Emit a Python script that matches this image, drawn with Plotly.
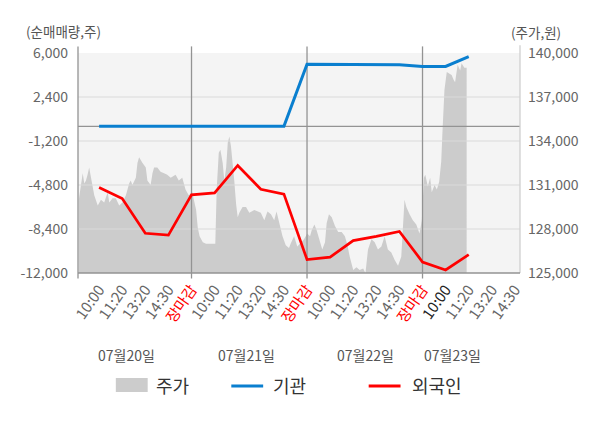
import plotly.graph_objects as go

# ---------------- data ----------------
day_labels = ["07월20일", "07월21일", "07월22일", "07월23일"]
time_labels = ["10:00", "11:20", "13:20", "14:30", "장마감"]

# x positions are "slots": each trading day spans 5 slots (10:00,11:20,13:20,14:30,장마감)
flow_x = list(range(1, 18))
institution = [0, 0, 0, 0, 0, 0, 0, 0, 0,
               5080, 5070, 5060, 5050, 5040, 4900, 4900, 5700]
foreign = [-5000, -5900, -8750, -8900, -5600,
           -5450, -3200, -5150, -5550, -10900,
           -10700, -9350, -9000, -8600, -11100,
           -11750, -10500]

price_x = [0.12, 0.22, 0.29, 0.36, 0.43, 0.50, 0.57, 0.65, 0.72, 0.79, 0.94,
           1.08, 1.22, 1.37, 1.44, 1.58, 1.72, 1.87, 2.01, 2.16, 2.30, 2.37,
           2.44, 2.59, 2.66, 2.73, 2.88, 3.02, 3.09, 3.23, 3.31, 3.38, 3.52,
           3.66, 3.81, 3.95, 4.10, 4.31, 4.45, 4.60, 4.74, 4.88, 5.03,
           5.09, 5.20, 5.27, 5.35, 5.49, 5.63, 5.78, 5.92, 6.03, 6.09, 6.18,
           6.25, 6.35, 6.42, 6.50, 6.57, 6.64, 6.71, 6.78, 6.85, 6.93, 7.00,
           7.07, 7.21, 7.36, 7.50, 7.72, 7.86, 8.00, 8.15, 8.29, 8.44, 8.58,
           8.68, 8.79, 8.94, 9.08, 9.22, 9.29, 9.44, 9.58, 9.73, 9.87, 10.01,
           10.13, 10.20, 10.32, 10.42, 10.56, 10.66, 10.78, 10.85, 10.95,
           11.07, 11.21, 11.35, 11.50, 11.64, 11.75, 11.85, 12.00, 12.14,
           12.28, 12.43, 12.53, 12.64, 12.79, 12.93, 13.07, 13.22, 13.36,
           13.50, 13.65, 13.79, 13.94, 14.08, 14.22, 14.30, 14.44, 14.58,
           14.73, 14.87, 14.97,
           15.06, 15.12, 15.23, 15.33, 15.40, 15.52, 15.62, 15.72, 15.81,
           15.86, 15.95, 16.05, 16.15, 16.26, 16.34, 16.41, 16.52, 16.63,
           16.69, 16.81, 16.91]
price = [130000, 131100, 131800, 131100, 131300, 131700, 132200, 131500, 130900, 130300, 129600,
         130000, 129800, 130500, 129800, 130100, 130100, 129600, 129800, 130300, 131100, 131300,
         131000, 131500, 132500, 132900, 132500, 132200, 131300, 131000, 131800, 132200, 132200,
         131900, 131800, 131700, 131500, 131700, 131300, 131500, 130700, 130300, 130500,
         130000, 129300, 128100, 127500, 127100, 127000, 127000, 127000, 127000, 130700, 133200,
         133400, 132500, 131300, 132200, 133900, 134300, 133600, 132600, 131300, 129700, 128800,
         129100, 129500, 129500, 129100, 129300, 129200, 129100, 128600, 129200, 129000, 128600,
         129200, 128400, 127500, 126900, 126700, 127000, 127500, 126800, 127100, 127300, 127700,
         127500, 127900, 128300, 127900, 127200, 126600, 127100, 128400, 129000,
         128800, 128200, 127800, 127800, 127500, 126900, 126100, 125200, 125400,
         125200, 125300, 125000, 126600, 127300, 127100, 126600, 126800, 127500,
         126600, 126400, 125900, 125500, 126100, 130000, 129500, 129000, 128600,
         128300, 127700, 128600,
         131500, 131700, 130900, 131500, 130500, 131000, 130700, 131200, 132600,
         134500, 137500, 138700, 138600, 138500, 138200, 138000, 139200, 138800,
         139300, 139000, 139000]

left_ticks = [6000, 2400, -1200, -4800, -8400, -12000]
right_ticks = [140000, 137000, 134000, 131000, 128000, 125000]
day_bounds = [5, 10, 15]
n_slots = 19  # last day shown up to 14:30
date_pos = [2.2, 7.37, 12.54, 16.3]

# ---------------- styling / layout ----------------
FONT = "Noto Sans CJK KR"
W, H = 600, 428
OFF = 8  # page body offset
L, T = 76 - OFF, 53 - OFF
PW, PH = 444, 220
R = W - L - PW
B = H - T - PH
XR = [0.086, 19.22]


def px(xp):
    return (xp - OFF - L) / PW


def py(yp):
    return (T + PH - (yp - OFF)) / PH


tickvals = list(range(1, n_slots + 1))
ticktext = []
for i, v in enumerate(tickvals):
    lab = time_labels[i % 5]
    if lab == "장마감":
        ticktext.append('<span style="color:#ff0000">' + lab + '</span>')
    elif v == 16:
        ticktext.append('<span style="color:#222222">' + lab + '</span>')
    else:
        ticktext.append(lab)

fig = go.Figure()

# price area (main axis, right side)
fig.add_trace(go.Scatter(x=price_x, y=price, mode="lines", fill="tozeroy",
                         fillcolor="#cccccc", line=dict(width=0, color="#cccccc"),
                         name="주가", xaxis="x", yaxis="y", hoverinfo="skip"))

# grid lines drawn above price area (overlay axis)
gx, gy = [], []
for t in left_ticks[1:-1]:
    gx += [XR[0], XR[1], None]
    gy += [t, t, None]
fig.add_trace(go.Scatter(x=gx, y=gy, mode="lines", line=dict(color="#d9d9d9", width=1.2),
                         yaxis="y2", showlegend=False, hoverinfo="skip"))
vx, vy = [], []
for d in day_bounds:
    vx += [d, d, None]
    vy += [left_ticks[-1], left_ticks[0], None]
vx += [XR[0], XR[1]]
vy += [0, 0]
fig.add_trace(go.Scatter(x=vx, y=vy, mode="lines", line=dict(color="#939393", width=1.3),
                         yaxis="y2", showlegend=False, hoverinfo="skip"))

fig.add_trace(go.Scatter(x=flow_x, y=institution, mode="lines",
                         line=dict(color="#0a7fcf", width=3), name="기관", yaxis="y2"))
fig.add_trace(go.Scatter(x=flow_x, y=foreign, mode="lines",
                         line=dict(color="#ff0000", width=2.7), name="외국인", yaxis="y2"))

shapes = []
for d in day_bounds:
    shapes.append(dict(type="line", xref="x", yref="paper", x0=d, x1=d, y0=1.0, y1=1.03,
                       line=dict(color="#939393", width=1.3)))
    shapes.append(dict(type="line", xref="x", yref="paper", x0=d, x1=d, y0=0, y1=-0.025,
                       line=dict(color="#939393", width=1.3)))
shapes.append(dict(type="line", xref="paper", yref="paper", x0=0, x1=0, y0=-0.025, y1=1.03,
                   line=dict(color="#939393", width=1.3), layer="above"))
shapes.append(dict(type="line", xref="paper", yref="paper", x0=1, x1=1, y0=0, y1=1.035,
                   line=dict(color="#cfcfcf", width=1.3), layer="above"))
shapes.append(dict(type="line", xref="paper", yref="paper", x0=0, x1=1, y0=0, y1=0,
                   line=dict(color="#939393", width=1.3), layer="above"))

# manual legend
shapes.append(dict(type="rect", xref="paper", yref="paper", x0=px(114), x1=px(146),
                   y0=py(392), y1=py(378), fillcolor="#cccccc", line=dict(width=0)))
shapes.append(dict(type="line", xref="paper", yref="paper", x0=px(230), x1=px(262),
                   y0=py(386), y1=py(386), line=dict(color="#0a7fcf", width=3)))
shapes.append(dict(type="line", xref="paper", yref="paper", x0=px(368), x1=px(400),
                   y0=py(386), y1=py(386), line=dict(color="#ff0000", width=3)))

annotations = []
for name, xl in [("주가", 152), ("기관", 270), ("외국인", 409)]:
    annotations.append(dict(text=name, xref="paper", yref="paper", x=px(xl), y=py(385),
                            xanchor="left", yanchor="middle", showarrow=False,
                            font=dict(size=18, color="#333333", family=FONT)))
for lab, pos in zip(day_labels, date_pos):
    annotations.append(dict(text=lab, xref="x", yref="paper", x=pos, y=py(355),
                            xanchor="center", yanchor="middle", showarrow=False,
                            font=dict(size=14, color="#555555", family=FONT)))
annotations.append(dict(text="(순매매량,주)", xref="paper", yref="paper", x=px(22), y=py(31),
                        xanchor="left", yanchor="middle", showarrow=False,
                        font=dict(size=13.5, color="#555555", family=FONT)))
annotations.append(dict(text="(주가,원)", xref="paper", yref="paper", x=px(509), y=py(32),
                        xanchor="left", yanchor="middle", showarrow=False,
                        font=dict(size=13.5, color="#555555", family=FONT)))

fig.update_layout(
    width=W, height=H,
    margin=dict(l=L, r=R, t=T, b=B),
    paper_bgcolor="#ffffff",
    plot_bgcolor="#f4f4f4",
    font=dict(family=FONT, color="#555555"),
    showlegend=False,
    shapes=shapes,
    annotations=annotations,
    xaxis=dict(range=XR, tickmode="array", tickvals=tickvals, ticktext=ticktext,
               tickangle=-55, tickfont=dict(size=15, color="#666666", family=FONT),
               showgrid=False, zeroline=False, showline=False, ticks="",
               ticklabelstandoff=4, fixedrange=True),
    yaxis=dict(range=[right_ticks[-1], right_ticks[0]], side="right", tickmode="array",
               tickvals=right_ticks, ticktext=[f"{v:,}" for v in right_ticks],
               tickfont=dict(size=14, color="#666666", family=FONT),
               showgrid=False, zeroline=False, showline=False, ticks="",
               ticklabelstandoff=7),
    yaxis2=dict(range=[left_ticks[-1], left_ticks[0]], side="left", overlaying="y",
                tickmode="array", tickvals=left_ticks,
                ticktext=[f"{v:,}" for v in left_ticks],
                tickfont=dict(size=14, color="#666666", family=FONT),
                showgrid=False, zeroline=False, showline=False, ticks="",
                ticklabelstandoff=9),
)

fig.write_html("out.html")
